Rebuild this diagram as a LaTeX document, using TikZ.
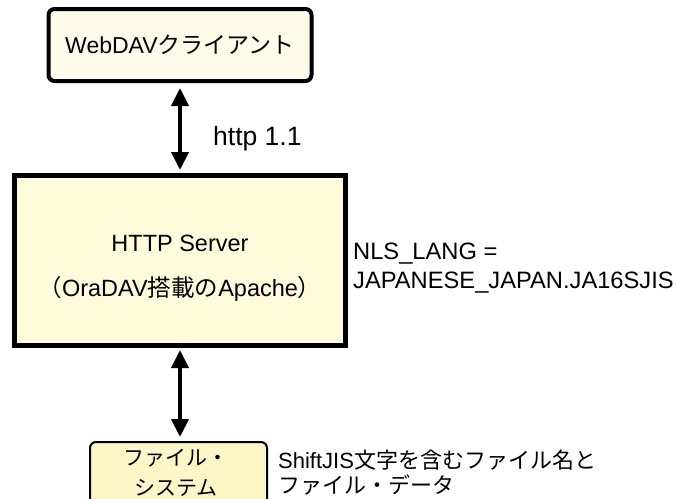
\documentclass[tikz,border=0pt]{standalone}
\usepackage{fontspec}
\setmainfont{Liberation Sans}
\newfontfamily\jp{Noto Sans CJK JP}
\usetikzlibrary{arrows.meta}
\definecolor{creamA}{HTML}{FEFCE8}
\definecolor{creamB}{HTML}{FFFCDC}
\definecolor{creamC}{HTML}{FFF6C8}
\tikzset{
  boxtext/.style={font=\fontsize{23}{28}\selectfont, text=black},
  topbox/.style={draw=black, line width=4pt, rounded corners=6pt, fill=creamA,
    minimum width=263pt, minimum height=72pt, inner sep=0pt, boxtext},
  srvbox/.style={draw=black, line width=5pt, fill=creamB,
    minimum width=331pt, minimum height=170pt, inner sep=0pt},
  fsbox/.style={draw=black, line width=2pt, rounded corners=6pt, fill=creamC,
    minimum width=177pt, minimum height=80pt, inner sep=0pt},
  plain/.style={inner sep=0pt, boxtext, align=left},
  dblarrow/.style={line width=4pt, {Triangle[length=18pt,width=17pt]}-{Triangle[length=18pt,width=17pt]}},
}
\begin{document}
\begin{tikzpicture}[x=1pt,y=-1pt]
\useasboundingbox (0,0) rectangle (677,498);
\node[topbox] (client) at (180,45) {WebDAV{\jp クライアント}};
\node[srvbox] (server) at (180,260.5) {};
\node[plain, align=center, font=\fontsize{23.5}{45}\selectfont] (srvlabel) at (180,268)
  {HTTP Server\\{\jp （}OraDAV{\jp 搭載の}Apache{\jp ）}};
\node[fsbox, anchor=north] (fs) at (178.5,441) {};
\node[plain, align=center, font=\fontsize{21}{29.5}\selectfont, anchor=north] (fslabel) at (176,449)
  {{\jp ファイル・}\\{\jp システム}};
\draw[dblarrow, shorten <=5pt, shorten >=3pt] (client.south) -- (server.north);
\draw[dblarrow, shorten <=2pt, shorten >=4pt] (server.south) -- (server.south |- fs.north);
\node[plain, font=\fontsize{26.5}{30}\selectfont, anchor=base west] (http) at (213,145) {http 1.1};
\node[plain, font=\fontsize{23.7}{28.5}\selectfont, anchor=north west] (nls) at (353,243) {NLS\_LANG =\\JAPANESE\_JAPAN.JA16SJIS};
\node[plain, font=\fontsize{22}{25}\selectfont, anchor=north west] (desc) at (278,450)
  {ShiftJIS{\jp 文字を含むファイル名と}\\{\jp ファイル・データ}};
\end{tikzpicture}
\end{document}
